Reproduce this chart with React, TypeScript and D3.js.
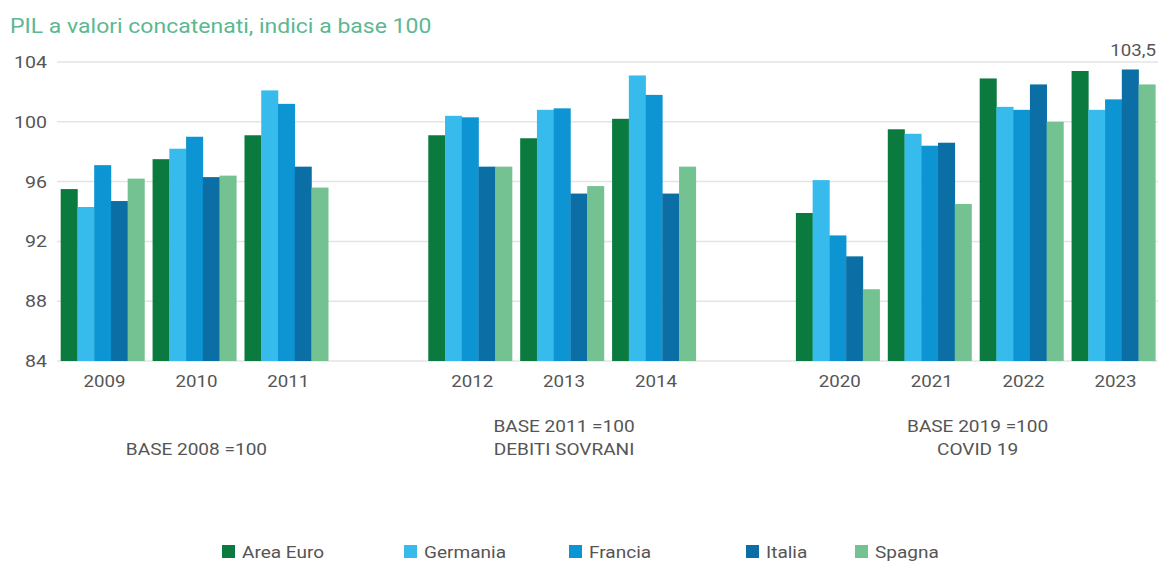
import React from "react";
import * as d3 from "d3";

const slots = ["2009", "2010", "2011", "gap1", "2012", "2013", "2014", "gap2", "2020", "2021", "2022", "2023"];
const years = ["2009", "2010", "2011", "2012", "2013", "2014", "2020", "2021", "2022", "2023"];
const seriesNames = ["Area Euro", "Germania", "Francia", "Italia", "Spagna"];
const seriesColors = ["#0b7a3e", "#36bbec", "#0d94d2", "#0b6fa6", "#74c292"];

const areaEuro = [95.5, 97.5, 99.1, 99.1, 98.9, 100.2, 93.9, 99.5, 102.9, 103.4];
const germania = [94.3, 98.2, 102.1, 100.4, 100.8, 103.1, 96.1, 99.2, 101.0, 100.8];
const francia = [97.1, 99.0, 101.2, 100.3, 100.9, 101.8, 92.4, 98.4, 100.8, 101.5];
const italia = [94.7, 96.3, 97.0, 97.0, 95.2, 95.2, 91.0, 98.6, 102.5, 103.5];
const spagna = [96.2, 96.4, 95.6, 97.0, 95.7, 97.0, 88.8, 94.5, 100.0, 102.5];

const yTicks = [84, 88, 92, 96, 100, 104];
const title = "PIL a valori concatenati, indici a base 100";
const groupLabels = [
  { at: ["2010"], lines: ["BASE 2008 =100"] },
  { at: ["2013"], lines: ["BASE 2011 =100", "DEBITI SOVRANI"] },
  { at: ["2021", "2022"], lines: ["BASE 2019 =100", "COVID 19"] },
];
const highlight = { year: "2023", series: "Italia", label: "103,5" };

const legendX = [222, 404, 569, 746, 855];

const W = 1158;
const H = 563;
const FONT = "Roboto, 'Noto Sans', sans-serif";
const TEXT = "#555555";

type TProps = {
  x: number;
  y: number;
  sx: number;
  size: number;
  anchor?: string;
  fill?: string;
  baseline?: string;
  children: React.ReactNode;
};

function T({ x, y, sx, size, anchor = "start", fill = TEXT, baseline = "central", children }: TProps) {
  return (
    <text
      transform={`translate(${x},${y}) scale(${sx},1)`}
      textAnchor={anchor}
      dominantBaseline={baseline}
      fontSize={size}
      fill={fill}
    >
      {children}
    </text>
  );
}

export default function App() {
  const values = [areaEuro, germania, francia, italia, spagna];
  const x = d3.scaleBand<string>().domain(slots).range([56.6, 1159.4]).paddingInner(0.089).paddingOuter(0.0445);
  const xs = d3.scaleBand<string>().domain(seriesNames).range([0, x.bandwidth()]).padding(0);
  const y = d3.scaleLinear().domain([84, 104]).range([361, 62]);

  const hiIdx = years.indexOf(highlight.year);
  const hiSeries = seriesNames.indexOf(highlight.series);
  const hiX = (x(highlight.year) as number) + (xs(highlight.series) as number) + xs.bandwidth() / 2 + 3;
  const hiY = y(values[hiSeries][hiIdx]) - 20;

  return (
    <svg width={W} height={H} style={{ position: "absolute", left: 0, top: 0, background: "#fff" }} fontFamily={FONT}>
      <rect x={0} y={0} width={W} height={H} fill="#ffffff" />
      <T x={10} y={33} sx={1.15} size={20} fill="#5cb892" baseline="alphabetic">{title}</T>
      {yTicks.map((t) => (
        <g key={t}>
          <line x1={57} x2={W} y1={y(t)} y2={y(t)} stroke="#e4e4e4" strokeWidth={1.5} />
          <T x={47} y={y(t)} sx={1.15} size={17} anchor="end">{t}</T>
        </g>
      ))}
      {years.map((yr, i) => (
        <g key={yr}>
          {seriesNames.map((s, j) => {
            const v = values[j][i];
            return (
              <rect
                key={s}
                x={(x(yr) as number) + (xs(s) as number)}
                y={y(v)}
                width={xs.bandwidth() + 0.3}
                height={y(84) - y(v)}
                fill={seriesColors[j]}
              />
            );
          })}
          <T x={(x(yr) as number) + x.bandwidth() / 2 + 2} y={381} sx={1.1} size={17} anchor="middle">{yr}</T>
        </g>
      ))}
      {groupLabels.map((g, k) => {
        const cx = d3.mean(g.at, (a) => (x(a) as number) + x.bandwidth() / 2) as number;
        const baseY = g.lines.length === 1 ? 450 : 427;
        return (
          <g key={k}>
            {g.lines.map((l, m) => (
              <T key={m} x={cx + 2} y={baseY + m * 23} sx={1.19} size={16} anchor="middle">{l}</T>
            ))}
          </g>
        );
      })}
      <T x={hiX} y={hiY} sx={1.1} size={17} anchor="middle">{highlight.label}</T>
      {seriesNames.map((s, j) => (
        <g key={s}>
          <rect x={legendX[j]} y={545} width={13} height={13} fill={seriesColors[j]} />
          <T x={legendX[j] + 20} y={551.5} sx={1.12} size={17}>{s}</T>
        </g>
      ))}
    </svg>
  );
}
